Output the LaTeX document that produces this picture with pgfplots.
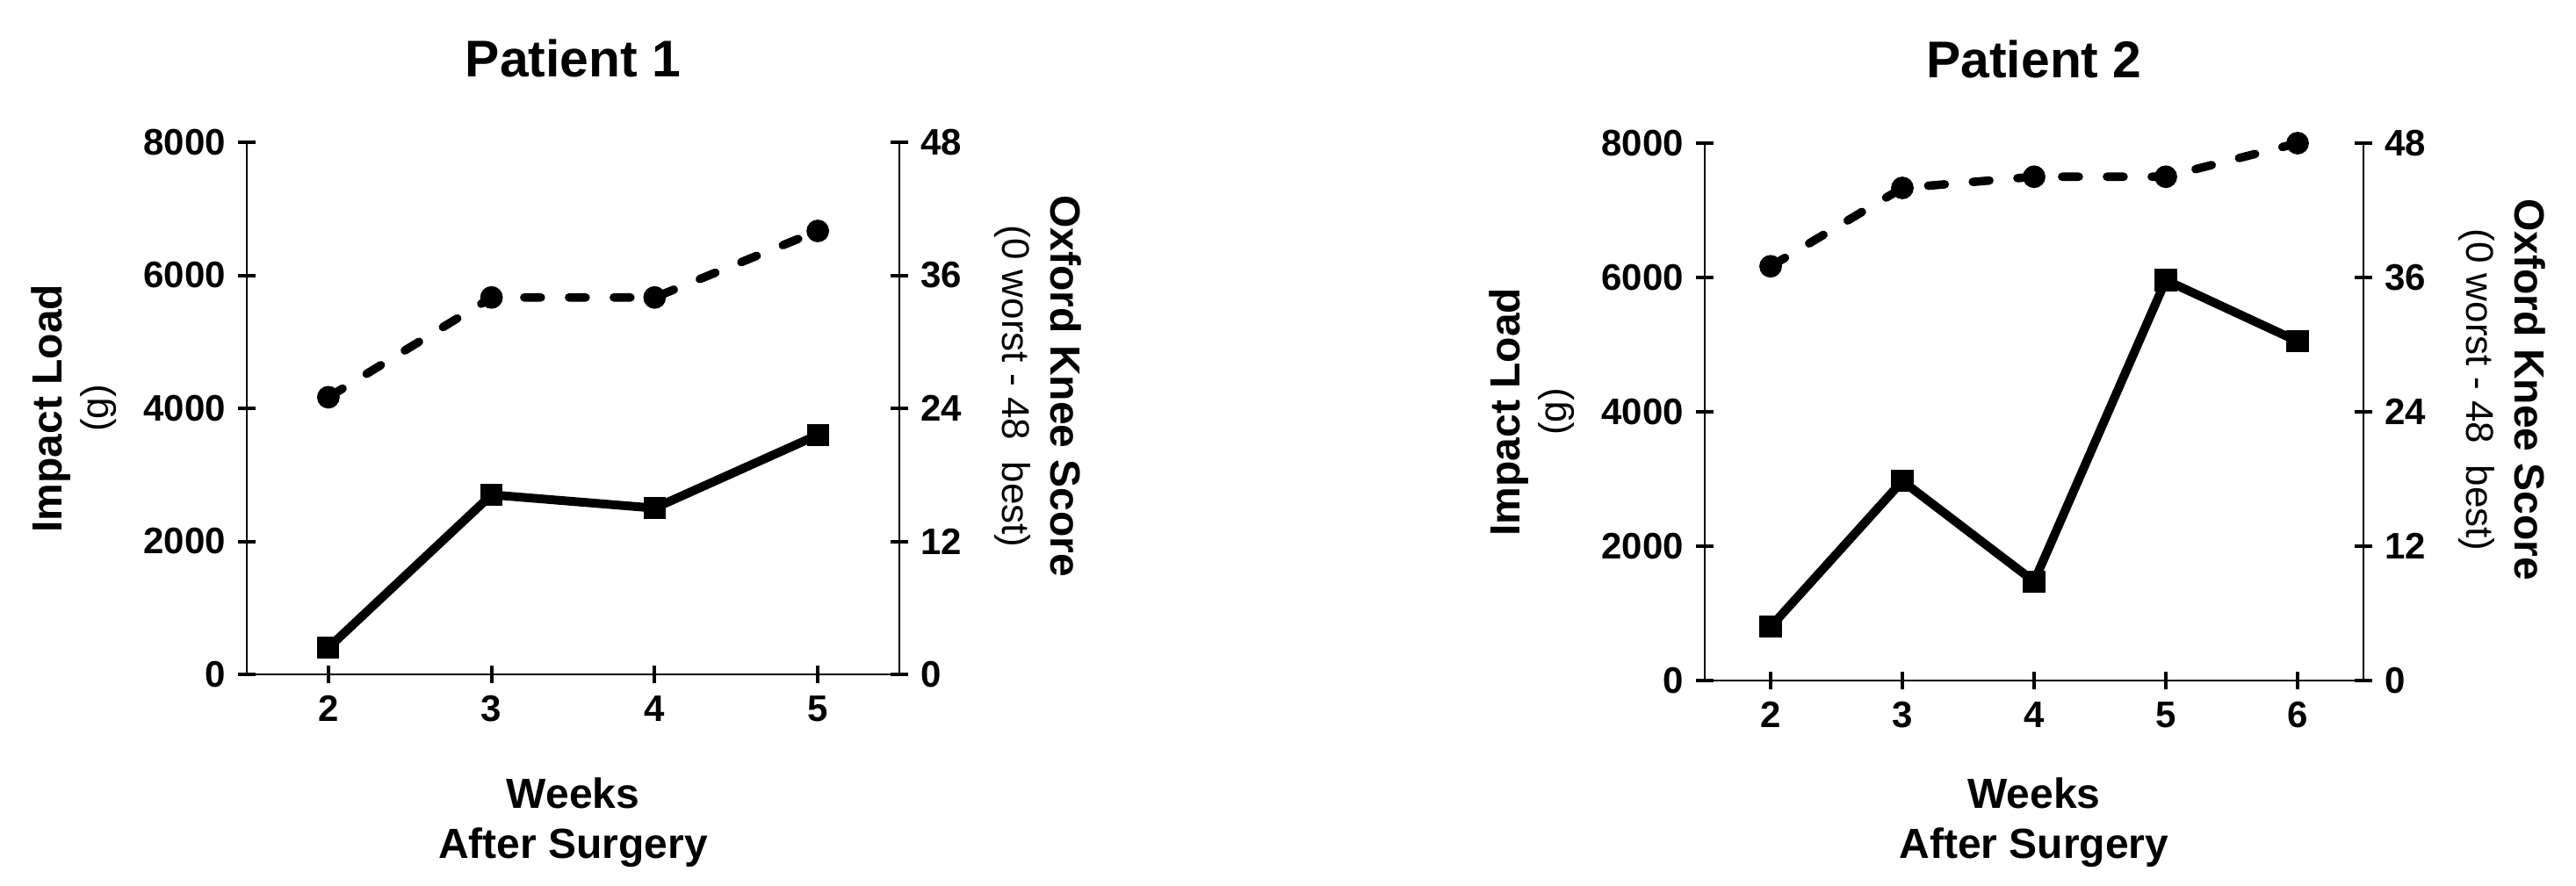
\documentclass[border=0pt]{standalone}
\usepackage{fontspec}
\setmainfont{Liberation Sans}
\usepackage{pgfplots}
\pgfplotsset{compat=1.18}

% shared look of both panels
\pgfplotsset{
  plainlines/.style={
    axis line style={line width=1pt, -},
    every outer x axis line/.style={-},
    every outer y axis line/.style={-},
    every inner x axis line/.style={-},
    every inner y axis line/.style={-},
    every boxed x axis line/.style={-},
    every boxed y axis line/.style={-},
  },
  panel/.style={
    scale only axis,
    anchor=south west,
    clip=false,
    ymin=0, ymax=8000,
    tick align=outside,
    major tick length=5pt,
    major tick style={line width=1pt, black},
    /pgf/number format/assume math mode=true,
    /pgf/number format/1000 sep={},
    tick label style={font=\fontsize{10.5}{12}\selectfont\bfseries},
    every axis title/.style={at={(axis description cs:0.5,1)}, anchor=base, yshift=18.75pt,
      font=\fontsize{14.7}{17}\selectfont\bfseries},
    every axis x label/.style={at={(axis description cs:0.5,0)}, anchor=north, inner sep=0pt,
      align=center, font=\fontsize{12}{14.25}\selectfont\bfseries},
  },
  leftaxis/.style={
    panel,
    axis x line=bottom, axis y line=left,
    plainlines,
    ytick={0,2000,...,8000},
    every axis y label/.style={at={(axis description cs:0,0.5)}, xshift=-37pt, rotate=90,
      anchor=south, inner sep=0pt, align=center, font=\fontsize{12}{13.25}\selectfont\bfseries},
    ylabel={Impact Load\\{\fontsize{11}{13.25}\selectfont\mdseries (g)}},
    xlabel={Weeks\\After Surgery},
  },
  rightaxis/.style={
    panel,
    ymax=48,
    axis x line=none, axis y line=right,
    plainlines,
    ytick={0,12,...,48},
    every axis y label/.style={at={(axis description cs:1,0.5)}, xshift=27pt, yshift=6.25pt, rotate=-90,
      anchor=south, inner sep=0pt, align=center, font=\fontsize{12}{13.75}\selectfont\bfseries},
    ylabel={Oxford Knee Score\\{\fontsize{11}{13.75}\selectfont\mdseries (0 worst - 48\ \ best)}},
  },
  load/.style={black, line width=2.5pt, mark=square*, mark size=1.9pt},
  oks/.style={black, line width=2.4pt, line cap=round, dash pattern=on 4.75pt off 8pt,
    mark=*, mark size=2pt, mark options={solid}},
}

\begin{document}
\begin{tikzpicture}
\path[use as bounding box] (0,0) rectangle (733.25pt,252pt);

% Patient 1
\begin{axis}[leftaxis, at={(70.25pt,60pt)}, width=185.75pt, height=151.5pt,
  xmin=1.5, xmax=5.5, xtick={2,3,4,5}, title={Patient 1},
  xlabel style={yshift=-29.25pt}]
\addplot[load] coordinates {(2,400) (3,2700) (4,2500) (5,3600)};
\end{axis}
\begin{axis}[rightaxis, at={(70.25pt,60pt)}, width=185.75pt, height=151.5pt,
  xmin=1.5, xmax=5.5]
\addplot[oks] coordinates {(2,25) (3,34) (4,34) (5,40)};
\end{axis}

% Patient 2
\begin{axis}[leftaxis, at={(485.25pt,58.25pt)}, width=187.5pt, height=153pt,
  xmin=1.5, xmax=6.5, xtick={2,3,4,5,6}, title={Patient 2},
  xlabel style={yshift=-27.5pt}]
\addplot[load] coordinates {(2,800) (3,2970) (4,1475) (5,5960) (6,5050)};
\end{axis}
\begin{axis}[rightaxis, at={(485.25pt,58.25pt)}, width=187.5pt, height=153pt,
  xmin=1.5, xmax=6.5]
\addplot[oks] coordinates {(2,37) (3,44) (4,45) (5,45) (6,48)};
\end{axis}
\end{tikzpicture}
\end{document}
